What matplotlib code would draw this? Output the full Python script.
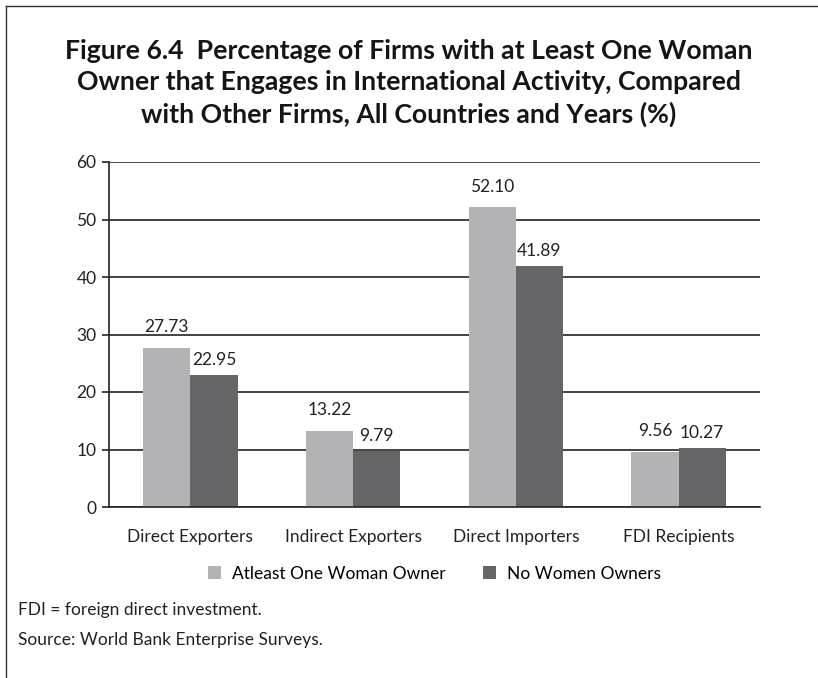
import numpy as np
import matplotlib.pyplot as plt

categories = ["Direct Exporters", "Indirect Exporters", "Direct Importers", "FDI Recipients"]
woman_owner = [27.73, 13.22, 52.10, 9.56]
no_women = [22.95, 9.79, 41.89, 10.27]
series_names = ["Atleast One Woman Owner", "No Women Owners"]

plt.rcParams['font.family'] = ['Lato', 'DejaVu Sans']

fig = plt.figure(figsize=(8.18, 6.78), dpi=100)
ax = fig.add_axes([109/818, 1 - 507/678, (760-109)/818, (507-162)/678])

x = np.arange(len(categories)) + 0.5
w = 0.29
light = "#b3b3b5"
dark = "#656567"
txt = "#222222"

ax.set_axisbelow(True)
b1 = ax.bar(x - w/2, woman_owner, w, color=light, label=series_names[0])
b2 = ax.bar(x + w/2, no_women, w, color=dark, label=series_names[1])

for rect, v in zip(b1, woman_owner):
    ax.text(rect.get_x() + rect.get_width()/2, v + 2.2, f"{v:.2f}", ha="center", va="bottom", fontsize=12.5, color=txt)
for rect, v in zip(b2, no_women):
    ax.text(rect.get_x() + rect.get_width()/2, v + 1.2, f"{v:.2f}", ha="center", va="bottom", fontsize=12.5, color=txt)

ax.set_xlim(0, 4)
ax.set_ylim(0, 60)
ax.set_yticks(range(0, 61, 10))
ax.set_xticks(x)
ax.set_xticklabels(categories)
ax.yaxis.grid(True, color=txt, lw=1.2)
for s in ["top", "right"]:
    ax.spines[s].set_visible(False)
for s in ["left", "bottom"]:
    ax.spines[s].set_color(txt)
    ax.spines[s].set_linewidth(1.2)
ax.tick_params(axis="y", length=5, width=1.2, labelsize=12.5, colors=txt, pad=4)
ax.tick_params(axis="x", length=0, pad=16, labelsize=12.5, colors=txt)

ax.legend(loc="upper center", bbox_to_anchor=(0.5, -0.125), ncol=2, frameon=False,
          fontsize=12.5, handlelength=0.75, handleheight=0.75, columnspacing=2.2, handletextpad=0.6)

fig.text(0.5, 1 - 83/678, "Figure 6.4  Percentage of Firms with at Least One Woman\n"
         "Owner that Engages in International Activity, Compared\n"
         "with Other Firms, All Countries and Years (%)",
         ha="center", va="center", fontsize=19.2, fontweight="bold", color="#151515", linespacing=1.38)

fig.text(18/818, 1 - 610/678, "FDI = foreign direct investment.", fontsize=12.5, va="center", color=txt)
fig.text(18/818, 1 - 640/678, "Source: World Bank Enterprise Surveys.", fontsize=12.5, va="center", color=txt)

# frame around the figure box (left and top only)
fig.add_artist(plt.Line2D([6/818, 6/818], [0, 1 - 6/678], transform=fig.transFigure, color="#333333", lw=1))
fig.add_artist(plt.Line2D([6/818, 1], [1 - 6/678, 1 - 6/678], transform=fig.transFigure, color="#333333", lw=1))

fig.savefig("out.png", dpi=100)
